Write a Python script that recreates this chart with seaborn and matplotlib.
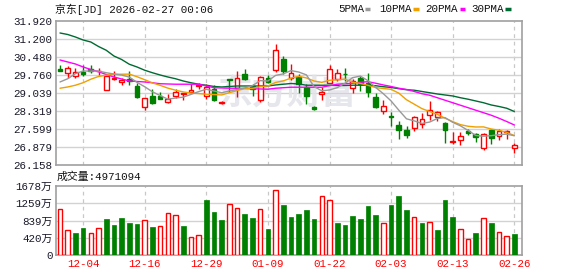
import numpy as np
import pandas as pd
import matplotlib
matplotlib.use("Agg")
import matplotlib.pyplot as plt
import seaborn as sns
from matplotlib.lines import Line2D

# ---------------- data ----------------
x_tick_idx = [3, 11, 19, 27, 35, 43, 51, 59]
x_tick_labels = ["12-04", "12-16", "12-29", "01-09", "01-22", "02-03", "02-13", "02-26"]

opens = [29.99, 29.84, 29.72, 29.89, 29.99, 29.90, 29.16, 29.60, 29.48, 29.61,
         29.32, 28.48, 28.92, 28.91, 28.68, 28.92, 28.99, 29.08, 29.32, 28.92,
         29.21, 28.63, 29.61, 29.24, 29.81, 29.31, 28.76, 29.65, 29.95, 30.40,
         29.64, 29.69, 29.29, 28.49, 28.99, 29.45, 29.59, 29.81, 29.23, 29.65,
         29.43, 28.89, 28.32, 28.11, 27.75, 27.57, 27.64, 27.81, 28.15, 28.08,
         27.84, 27.07, 27.15, 27.52, 27.40, 26.83, 27.56, 27.32, 27.47, 26.84]
closes = [29.92, 30.05, 29.89, 29.79, 29.92, 29.93, 29.72, 29.64, 29.57, 29.52,
          28.88, 28.84, 28.63, 28.81, 28.81, 29.09, 29.03, 29.17, 29.37, 29.28,
          28.75, 28.67, 29.55, 29.64, 29.61, 29.19, 29.68, 29.48, 30.76, 29.91,
          29.85, 29.39, 28.91, 28.40, 29.09, 30.01, 29.85, 29.79, 29.52, 29.41,
          29.09, 28.49, 28.53, 28.08, 27.57, 27.36, 28.08, 28.01, 28.36, 28.28,
          27.55, 27.12, 27.32, 27.43, 27.28, 27.40, 27.23, 27.52, 27.53, 26.97]
highs = [30.15, 30.13, 30.03, 30.15, 30.17, 30.03, 29.75, 29.92, 29.65, 29.92,
         29.45, 28.84, 29.21, 29.08, 28.99, 29.19, 29.05, 29.39, 29.44, 29.39,
         29.35, 28.72, 29.61, 29.92, 30.01, 29.39, 29.73, 29.76, 31.01, 30.51,
         30.21, 29.79, 29.39, 28.53, 29.28, 30.15, 30.01, 30.05, 29.59, 29.72,
         29.85, 29.03, 28.75, 28.29, 27.92, 27.72, 28.12, 28.24, 28.72, 28.32,
         27.89, 27.48, 27.48, 27.60, 27.45, 27.44, 27.61, 27.61, 27.57, 27.05]
lows = [29.90, 29.65, 29.63, 29.72, 29.84, 29.77, 29.16, 29.56, 29.35, 29.35,
        28.85, 28.35, 28.59, 28.79, 28.64, 28.85, 28.76, 29.05, 29.21, 28.79,
        28.72, 28.60, 29.09, 28.87, 29.57, 28.91, 28.68, 29.45, 29.89, 29.79,
        29.57, 29.05, 28.59, 28.35, 28.75, 29.43, 29.52, 29.52, 29.05, 29.12,
        28.89, 28.45, 28.19, 27.71, 27.19, 27.25, 27.51, 27.63, 27.95, 27.91,
        27.03, 27.01, 26.95, 27.36, 27.09, 26.75, 27.01, 27.15, 27.21, 26.65]

# volume in 万 (10k shares)
volumes = [1110, 600, 535, 657, 527, 648, 875, 730, 900, 778,
           754, 843, 681, 697, 1021, 965, 705, 430, 478, 1337,
           1046, 851, 1240, 1143, 997, 900, 1110, 632, 1573, 1216,
           924, 997, 1094, 875, 1427, 1329, 786, 730, 948, 875,
           1192, 973, 778, 1216, 1435, 1094, 916, 778, 794, 608,
           1337, 924, 624, 381, 535, 892, 778, 551, 454, 511]
vol_up = [1, 1, 0, 0, 1, 1, 0, 0, 0, 0,
          0, 1, 0, 1, 1, 1, 0, 1, 1, 0,
          0, 0, 1, 1, 0, 0, 1, 0, 1, 0,
          0, 0, 0, 0, 1, 1, 0, 0, 0, 0,
          0, 0, 1, 0, 0, 0, 1, 0, 1, 0,
          0, 0, 1, 1, 0, 1, 0, 1, 1, 0]

ma5_head = [29.48, 29.61, 29.81, 29.92]
ma10_head = [29.23, 29.28, 29.35, 29.45, 29.59, 29.70, 29.75, 29.79, 29.79]
ma20 = [30.36, 30.28, 30.20, 30.08, 29.98, 29.89, 29.78, 29.68, 29.60, 29.52,
        29.50, 29.48, 29.45, 29.41, 29.40, 29.39, 29.39, 29.39, 29.39, 29.32,
        29.25, 29.24, 29.23, 29.23, 29.22, 29.21, 29.20, 29.19, 29.23, 29.25,
        29.27, 29.27, 29.27, 29.27, 29.27, 29.33, 29.39, 29.41, 29.43, 29.47,
        29.49, 29.43, 29.36, 29.30, 29.23, 29.18, 29.10, 29.01, 28.95, 28.85,
        28.75, 28.65, 28.55, 28.45, 28.35, 28.25, 28.15, 28.03, 27.90, 27.76]
ma30 = [31.44, 31.38, 31.28, 31.16, 31.08, 30.90, 30.75, 30.52, 30.38, 30.19,
        30.08, 29.95, 29.85, 29.76, 29.68, 29.61, 29.52, 29.45, 29.39, 29.35,
        29.30, 29.28, 29.30, 29.32, 29.32, 29.32, 29.32, 29.32, 29.36, 29.39,
        29.42, 29.40, 29.35, 29.35, 29.35, 29.35, 29.34, 29.34, 29.35, 29.35,
        29.35, 29.33, 29.29, 29.26, 29.21, 29.17, 29.15, 29.10, 29.05, 29.00,
        28.96, 28.92, 28.85, 28.79, 28.72, 28.65, 28.56, 28.50, 28.43, 28.30]

price_ticks = [26.158, 26.879, 27.599, 28.319, 29.039, 29.760, 30.480, 31.200, 31.920]
price_labels = ["26.158", "26.879", "27.599", "28.319", "29.039", "29.760", "30.480", "31.200", "31.920"]
vol_ticks = [0, 420, 839, 1259, 1678]
vol_labels = ["0", "420万", "839万", "1259万", "1678万"]

# ---------------- derived table ----------------
n = len(closes)
df = pd.DataFrame({"i": np.arange(n), "open": opens, "close": closes,
                   "high": highs, "low": lows, "vol": volumes, "vup": vol_up})
c = df["close"]
ma5 = c.rolling(5).mean().to_numpy()
ma5[:len(ma5_head)] = ma5_head
ma10 = c.rolling(10).mean().to_numpy()
ma10[:len(ma10_head)] = ma10_head
df["ma5"] = ma5
df["ma10"] = ma10
df["ma20"] = ma20
df["ma30"] = ma30

RED = "#ff0000"
GREEN = "#008000"
C5, C10, C20, C30 = "#999999", "#f0a000", "#ff00ff", "#006a33"
GRID = "#d2d2d2"
FRAME = "#a0a0a0"

sns.set_style("white")
plt.rcParams["font.family"] = ["Liberation Mono", "Noto Sans CJK SC", "DejaVu Sans"]
FS = 7.8

W, H = 578, 276
fig = plt.figure(figsize=(W / 100, H / 100), dpi=100)
fig.patch.set_facecolor("white")

L, R = 56, 522
ax = fig.add_axes([L / W, 1 - 165 / H, (R - L) / W, (165 - 21) / H])
axv = fig.add_axes([L / W, 1 - 255 / H, (R - L) / W, (255 - 186) / H])

xlim = (-0.52, 60.0)

for a in (ax, axv):
    a.set_xlim(*xlim)
    for s in a.spines.values():
        s.set_color(FRAME)
        s.set_linewidth(1.2)
    for t in x_tick_idx:
        a.axvline(t, color="#c8c8c8", lw=0.9, ls=(0, (3, 3)), zorder=0)
    a.tick_params(axis="both", length=0, pad=2.5, labelsize=FS, colors="#1a1a2a")

# ---------- price panel ----------
ax.set_ylim(26.158, 31.920)
ax.set_yticks(price_ticks)
ax.set_yticklabels(price_labels)
for yv in price_ticks[1:-1]:
    ax.axhline(yv, color=GRID, lw=1.0, zorder=0)
ax.set_xticks([])

# watermark
ax.text(29.5, 29.05, "东方财富", ha="center", va="center", fontsize=25, color="#e2e2ea",
        fontweight="bold", style="italic", family=["Noto Sans CJK SC"], zorder=1, alpha=0.85)

bw = 0.62
for _, r in df.iterrows():
    is_up = r["close"] >= r["open"]
    col = RED if is_up else GREEN
    top = max(r["open"], r["close"])
    bot = min(r["open"], r["close"])
    ax.vlines(r["i"], r["low"], r["high"], color=col, lw=1.0, zorder=2)
    h = max(top - bot, 0.012)
    ax.bar(r["i"], h, bottom=bot, width=bw,
           facecolor="white" if is_up else GREEN,
           edgecolor=col, linewidth=1.0, zorder=3)

for col_name, colr in (("ma30", C30), ("ma20", C20), ("ma10", C10), ("ma5", C5)):
    sns.lineplot(data=df, x="i", y=col_name, ax=ax, color=colr, linewidth=1.0,
                 legend=False, zorder=4)
ax.set_xlim(*xlim)
ax.set_xlabel("")
ax.set_ylabel("")

# ---------- volume panel ----------
axv.set_ylim(0, 1678)
axv.set_yticks(vol_ticks)
axv.set_yticklabels(vol_labels)
for yv in vol_ticks[1:-1]:
    axv.axhline(yv, color=GRID, lw=1.0, zorder=0)
for _, r in df.iterrows():
    if r["vup"]:
        axv.bar(r["i"], r["vol"], width=0.58, facecolor="white", edgecolor=RED,
                linewidth=1.0, zorder=3)
    else:
        axv.bar(r["i"], r["vol"], width=0.62, facecolor=GREEN, edgecolor=GREEN,
                linewidth=0.5, zorder=3)
axv.set_xticks(x_tick_idx)
axv.set_xticklabels(x_tick_labels)
for lab in axv.get_xticklabels():
    lab.set_color(RED)
axv.tick_params(axis="x", pad=3)

# ---------- header texts ----------
def fx(px):
    return px / W

def fy(py):
    return 1 - py / H

fig.text(fx(55), fy(9), "京东[JD] 2026-02-27 00:06", ha="left", va="center",
         fontsize=FS, color="#111111")
fig.text(fx(57), fy(177), "成交量:4971094", ha="left", va="center",
         fontsize=FS, color="#111111")

legend_items = [("5PMA", 338.7, 364.7, C5), ("10PMA", 379.7, 413.0, C10),
                ("20PMA", 425.7, 459.7, C20), ("30PMA", 471.3, 505.3, C30)]
for label, tx, mx, colr in legend_items:
    fig.text(fx(tx), fy(9.3), label, ha="left", va="center", fontsize=FS, color="#111111")
    fig.add_artist(Line2D([fx(mx), fx(mx + 5.5)], [fy(9.3), fy(9.3)],
                          transform=fig.transFigure, color=colr, lw=2.5,
                          solid_capstyle="butt"))

fig.savefig("out.png", dpi=100, facecolor="white")
